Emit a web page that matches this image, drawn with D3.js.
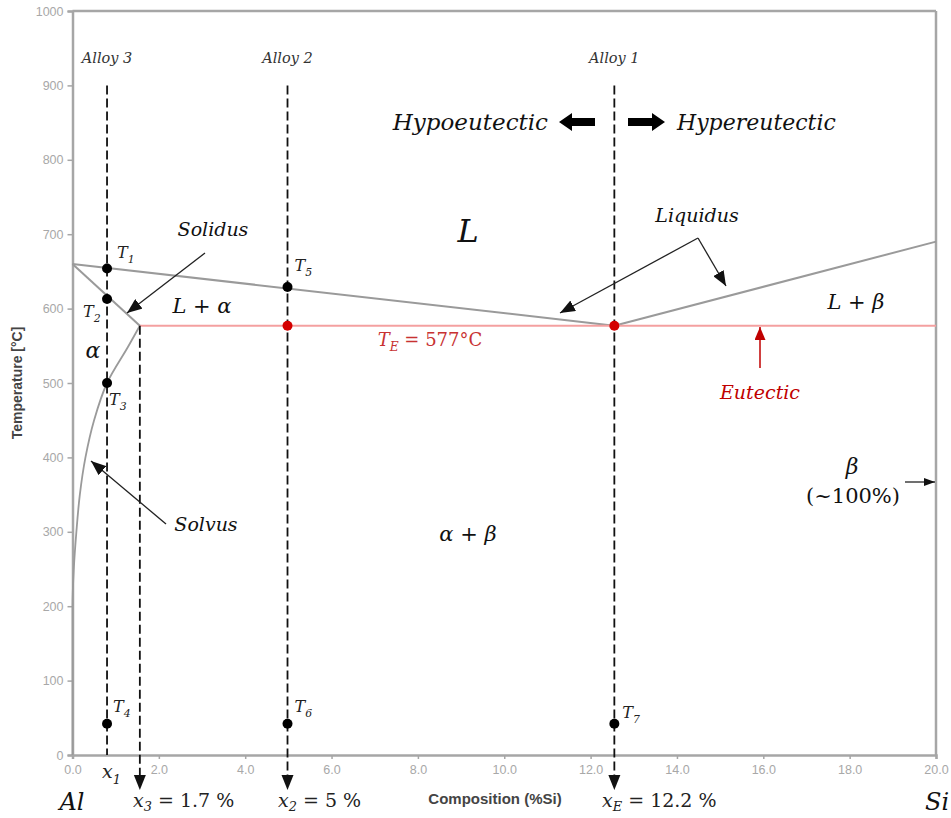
<!DOCTYPE html>
<html>
<head>
<meta charset="utf-8">
<script src="https://cdn.jsdelivr.net/npm/d3@7"></script>
<style>
  body { margin: 0; background: #fff; }
  svg text { font-family: "DejaVu Serif", serif; }
  svg text.sans, .tick text { font-family: "Liberation Sans", Arial, sans-serif; }
</style>
</head>
<body>
<div id="chart"></div>
<script>
// phase boundaries, composition (%Si) vs temperature (°C)
const liquidusAl = [[0, 660], [12.55, 577]];
const liquidusSi = [[12.55, 577], [20, 690]];
const solidus = [[0, 660], [1.56, 577]];
const solvus = [[1.56, 577], [1.3, 550], [0.8, 500], [0.5, 450], [0.3, 400], [0.17, 350], [0.09, 300], [0.03, 250], [0, 200], [0, 0]];
const eutecticT = 577;

// alloy composition lines
const alloys = [
  { name: 'Alloy 3', x: 0.8, top: 900, arrow: false },
  { name: 'Alloy 2', x: 4.98, top: 900, arrow: true },
  { name: 'Alloy 1', x: 12.55, top: 900, arrow: true }
];
const x3Line = { x: 1.56, top: 577 };

// temperature points on the alloy lines
const points = [
  { x: 0.8, t: 654, sub: '1', dx: 10, dy: -10 },
  { x: 0.8, t: 613, sub: '2', dx: -24, dy: 18 },
  { x: 0.8, t: 500, sub: '3', dx: 2, dy: 22 },
  { x: 0.8, t: 42, sub: '4', dx: 6, dy: -12 },
  { x: 4.98, t: 629, sub: '5', dx: 7, dy: -16 },
  { x: 4.98, t: 42, sub: '6', dx: 7, dy: -12 },
  { x: 12.55, t: 42, sub: '7', dx: 8, dy: -6 }
];
const eutecticPoints = [4.98, 12.55];

const xTicks = d3.range(0, 20.1, 2);
const yTicks = d3.range(0, 1001, 100);

const width = 951, height = 818;
const svg = d3.select('#chart').append('svg')
  .attr('width', width).attr('height', height)
  .attr('viewBox', [0, 0, width, height]);

const x = d3.scaleLinear().domain([0, 20]).range([72.5, 936]);
const y = d3.scaleLinear().domain([0, 1000]).range([755, 11]);

const axisColor = '#a6a6a6';

// frame
svg.append('line').attr('x1', x(0)).attr('x2', x(20)).attr('y1', y(1000)).attr('y2', y(1000))
  .attr('stroke', axisColor).attr('stroke-width', 2.5);
svg.append('line').attr('x1', x(20)).attr('x2', x(20)).attr('y1', y(1000)).attr('y2', y(0))
  .attr('stroke', axisColor).attr('stroke-width', 2.5);

const xAxis = svg.append('g').attr('transform', `translate(0,${y(0)})`)
  .call(d3.axisBottom(x).tickValues(xTicks).tickFormat(d3.format('.1f')).tickSize(4).tickPadding(6));
const yAxis = svg.append('g').attr('transform', `translate(${x(0)},0)`)
  .call(d3.axisLeft(y).tickValues(yTicks).tickFormat(d3.format('d')).tickSize(5).tickPadding(4));
[xAxis, yAxis].forEach(g => {
  g.select('.domain').attr('stroke', axisColor).attr('stroke-width', 2.5);
  g.selectAll('.tick line').attr('stroke', axisColor).attr('stroke-width', 1.5);
  g.selectAll('.tick text').attr('fill', '#a8a8a8').attr('font-size', 12.5);
});

svg.append('text').attr('class', 'sans').attr('x', 495).attr('y', 804).attr('text-anchor', 'middle')
  .attr('font-weight', 'bold').attr('font-size', 15).attr('fill', '#444').text('Composition (%Si)');
svg.append('text').attr('class', 'sans').attr('transform', `translate(22,${y(500)}) rotate(-90)`).attr('text-anchor', 'middle')
  .attr('font-weight', 'bold').attr('font-size', 14).attr('fill', '#444').text('Temperature [°C]');

// defs: arrow markers
const defs = svg.append('defs');
function marker(id, color, w, h) {
  defs.append('marker').attr('id', id).attr('viewBox', `0 0 ${w} ${h}`)
    .attr('refX', w).attr('refY', h / 2).attr('markerWidth', w).attr('markerHeight', h)
    .attr('markerUnits', 'userSpaceOnUse').attr('orient', 'auto')
    .append('path').attr('d', `M0,0L${w},${h / 2}L0,${h}Z`).attr('fill', color);
}
marker('blk', '#111', 15, 12);
marker('red', '#c00000', 13, 11);
marker('small', '#111', 11, 8);

const line = d3.line().x(d => x(d[0])).y(d => y(d[1]));

// phase lines
[liquidusAl, liquidusSi, solidus].forEach(d => {
  svg.append('path').attr('d', line(d)).attr('fill', 'none').attr('stroke', '#9a9a9a').attr('stroke-width', 2);
});
svg.append('path').attr('d', d3.line().curve(d3.curveMonotoneY).x(d => x(d[0])).y(d => y(d[1]))(solvus))
  .attr('fill', 'none').attr('stroke', '#9a9a9a').attr('stroke-width', 1.8);
svg.append('line').attr('x1', x(x3Line.x)).attr('x2', x(20)).attr('y1', y(eutecticT)).attr('y2', y(eutecticT))
  .attr('stroke', '#f4a0a0').attr('stroke-width', 2);

// dashed alloy lines
const arrowTip = 790;
alloys.forEach(a => {
  svg.append('line').attr('x1', x(a.x)).attr('x2', x(a.x)).attr('y1', y(a.top))
    .attr('y2', a.arrow ? arrowTip - 14 : y(0))
    .attr('stroke', '#111').attr('stroke-width', 1.8).attr('stroke-dasharray', '9,4');
  if (a.arrow) {
    svg.append('path').attr('d', `M${x(a.x) - 6},${arrowTip - 15}L${x(a.x) + 6},${arrowTip - 15}L${x(a.x)},${arrowTip}Z`).attr('fill', '#111');
  }
  svg.append('text').attr('x', x(a.x)).attr('y', 63).attr('text-anchor', 'middle')
    .attr('font-style', 'italic').attr('font-size', 14.5).attr('fill', '#333').text(a.name);
});
svg.append('line').attr('x1', x(x3Line.x)).attr('x2', x(x3Line.x)).attr('y1', y(x3Line.top)).attr('y2', arrowTip - 14)
  .attr('stroke', '#111').attr('stroke-width', 1.8).attr('stroke-dasharray', '9,4');
svg.append('path').attr('d', `M${x(x3Line.x) - 6},${arrowTip - 15}L${x(x3Line.x) + 6},${arrowTip - 15}L${x(x3Line.x)},${arrowTip}Z`).attr('fill', '#111');

// points
svg.selectAll('circle.pt').data(points).join('circle').attr('class', 'pt')
  .attr('cx', d => x(d.x)).attr('cy', d => y(d.t)).attr('r', 5).attr('fill', '#000');
svg.selectAll('circle.eu').data(eutecticPoints).join('circle').attr('class', 'eu')
  .attr('cx', d => x(d)).attr('cy', y(eutecticT)).attr('r', 5).attr('fill', '#d40000');

function subText(px, py, main, sub, size, color, anchor, drop) {
  const d = drop == null ? 0.3 : drop;
  const t = svg.append('text').attr('x', px).attr('y', py).attr('font-style', 'italic')
    .attr('font-size', size).attr('fill', color || '#222').attr('text-anchor', anchor || 'start');
  t.append('tspan').text(main);
  t.append('tspan').attr('dy', size * d).attr('font-size', size * 0.68).text(sub);
  t.drop = size * d;
  return t;
}
points.forEach(p => subText(x(p.x) + p.dx, y(p.t) + p.dy, 'T', p.sub, 16));

// region labels
function label(px, py, txt, size, opts = {}) {
  return svg.append('text').attr('x', px).attr('y', py).attr('text-anchor', opts.anchor || 'middle')
    .attr('font-style', opts.normal ? 'normal' : 'italic').attr('font-size', size)
    .attr('fill', opts.color || '#111').text(txt);
}
label(468, 242, 'L', 32);
label(202, 313, 'L + α', 21);
label(93, 358, 'α', 22);
label(856, 309, 'L + β', 21);
label(468, 541, 'α + β', 21);
label(852, 474, 'β', 22);
label(853, 503, '(~100%)', 21, { normal: true });
label(548, 130, 'Hypoeutectic', 23, { anchor: 'end' });
label(677, 130, 'Hypereutectic', 22, { anchor: 'start' });
label(213, 236, 'Solidus', 19);
label(697, 222, 'Liquidus', 19);
label(206, 531, 'Solvus', 19);
label(760, 399, 'Eutectic', 19, { color: '#c00000' });
const te = subText(430, 346, 'T', 'E', 18, '#c83232', 'middle');
te.append('tspan').attr('dy', -te.drop).text(' = 577°C').attr('font-style', 'normal');

// block arrows
function blockArrow(x0, x1, cy) {
  const dir = Math.sign(x1 - x0), head = 13;
  const xb = x1 - dir * head;
  svg.append('path').attr('d',
    `M${x0},${cy - 4}L${xb},${cy - 4}L${xb},${cy - 9}L${x1},${cy}L${xb},${cy + 9}L${xb},${cy + 4}L${x0},${cy + 4}Z`)
    .attr('fill', '#000');
}
blockArrow(595, 559, 122);
blockArrow(628, 665, 122);

// thin annotation arrows
function arrow(p0, p1, id, color, w) {
  svg.append('line').attr('x1', p0[0]).attr('y1', p0[1]).attr('x2', p1[0]).attr('y2', p1[1])
    .attr('stroke', color || '#222').attr('stroke-width', w || 1.3).attr('marker-end', `url(#${id})`);
}
arrow([205, 253], [127, 313], 'blk');
arrow([698, 238], [560, 313], 'blk');
arrow([698, 238], [726, 286], 'blk');
arrow([166, 524], [91, 461], 'blk');
arrow([760, 368], [760, 327], 'red', '#c00000', 1.5);
arrow([905, 482], [935, 482], 'small');

// bottom labels
label(72, 810, 'Al', 24);
label(925, 810, 'Si', 24, { anchor: 'start' });
subText(102, 778, 'x', '1', 19);
[['3', ' = 1.7 %', 133], ['2', ' = 5 %', 278], ['E', ' = 12.2 %', 602]].forEach(([s, rest, px]) => {
  const t = subText(px, 807, 'x', s, 19, '#222', 'start', 0.2);
  t.append('tspan').attr('dy', -t.drop).attr('font-style', 'normal').text(rest);
});
</script>
</body>
</html>
